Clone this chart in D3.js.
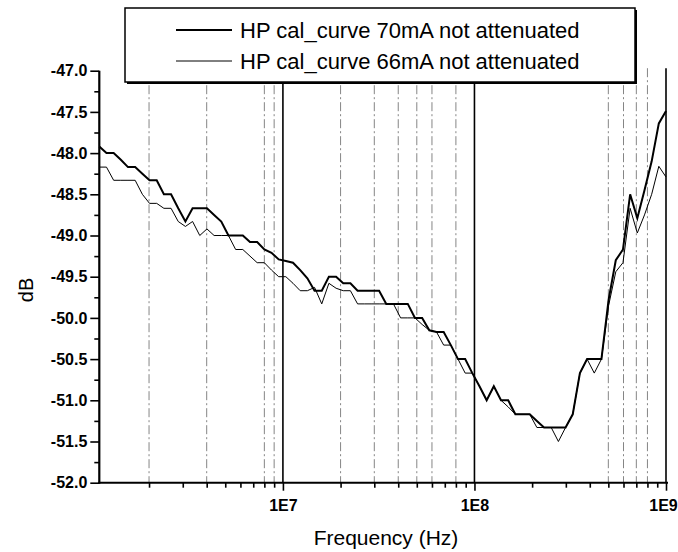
<!DOCTYPE html>
<html>
<head>
<meta charset="utf-8">
<script src="https://cdn.jsdelivr.net/npm/d3@7"></script>
<style>
  body { margin: 0; background: #fff; }
  svg { display: block; font-family: "Liberation Sans", Arial, Helvetica, sans-serif; }
</style>
</head>
<body>
<svg id="chart" width="678" height="552"></svg>
<script>
// Sweep frequencies (MHz), log spaced from 1.1 MHz to 1 GHz
const freqMHz = [
  1.100, 1.199, 1.307, 1.425, 1.553, 1.693, 1.846, 2.012, 2.193, 2.391,
  2.606, 2.841, 3.097, 3.376, 3.680, 4.012, 4.373, 4.767, 5.196, 5.665,
  6.175, 6.731, 7.338, 7.999, 8.719, 9.505, 10.36, 11.29, 12.31, 13.42,
  14.63, 15.95, 17.38, 18.95, 20.65, 22.51, 24.54, 26.75, 29.16, 31.78,
  34.64, 37.77, 41.16, 44.87, 48.91, 53.32, 58.12, 63.35, 69.06, 75.28,
  82.05, 89.44, 97.45, 106.2, 115.8, 126.2, 137.6, 150.0, 163.5, 178.2,
  194.3, 211.8, 230.8, 251.6, 274.3, 299.0, 325.9, 355.3, 387.3, 422.2,
  460.2, 501.7, 546.8, 596.1, 649.8, 708.3, 772.1, 841.7, 917.4, 1000
];

// Calibration curve, 70 mA (dB)
const dB70 = [
  -47.92, -48.00, -48.00, -48.08, -48.17, -48.17, -48.25, -48.33, -48.33, -48.50,
  -48.50, -48.67, -48.83, -48.67, -48.67, -48.67, -48.75, -48.83, -49.00, -49.00,
  -49.00, -49.08, -49.08, -49.17, -49.21, -49.29, -49.31, -49.33, -49.42, -49.52,
  -49.67, -49.67, -49.50, -49.50, -49.58, -49.58, -49.67, -49.67, -49.67, -49.67,
  -49.83, -49.83, -49.83, -49.83, -50.00, -50.00, -50.15, -50.17, -50.17, -50.33,
  -50.50, -50.50, -50.67, -50.83, -51.00, -50.83, -51.00, -51.00, -51.17, -51.17,
  -51.17, -51.25, -51.33, -51.33, -51.33, -51.33, -51.17, -50.67, -50.50, -50.50,
  -50.50, -49.78, -49.30, -49.17, -48.50, -48.79, -48.45, -48.10, -47.64, -47.49
];

// Calibration curve, 66 mA (dB)
const dB66 = [
  -48.17, -48.17, -48.33, -48.33, -48.33, -48.33, -48.50, -48.61, -48.61, -48.67,
  -48.67, -48.83, -48.89, -48.83, -49.00, -48.92, -49.00, -49.00, -49.00, -49.17,
  -49.17, -49.25, -49.33, -49.33, -49.42, -49.50, -49.50, -49.58, -49.67, -49.67,
  -49.63, -49.83, -49.58, -49.64, -49.67, -49.67, -49.83, -49.83, -49.83, -49.83,
  -49.83, -49.83, -50.00, -50.00, -50.00, -50.08, -50.15, -50.17, -50.33, -50.33,
  -50.50, -50.67, -50.67, -50.83, -51.00, -50.83, -51.00, -51.08, -51.17, -51.17,
  -51.17, -51.33, -51.33, -51.33, -51.50, -51.33, -51.17, -50.67, -50.50, -50.67,
  -50.50, -49.85, -49.44, -49.33, -48.67, -48.97, -48.75, -48.50, -48.16, -48.29
];

const seriesNames = [
  "HP cal_curve 70mA not attenuated",
  "HP cal_curve 66mA not attenuated"
];

// Axis ticks
const xMajorTicks = [1e7, 1e8, 1e9];
const xMajorLabels = ["1E7", "1E8", "1E9"];
const xMinorTicks = [
  2e6, 3e6, 4e6, 5e6, 6e6, 7e6, 8e6, 9e6,
  2e7, 3e7, 4e7, 5e7, 6e7, 7e7, 8e7, 9e7,
  2e8, 3e8, 4e8, 5e8, 6e8, 7e8, 8e8, 9e8
];
const xGridMinor = [2e6, 4e6, 8e6, 9e6, 2e7, 3e7, 4e7, 5e7, 6e7, 8e7, 5e8, 6e8, 7e8, 8e8];
const yMajorTicks = [-47.0, -47.5, -48.0, -48.5, -49.0, -49.5, -50.0, -50.5, -51.0, -51.5, -52.0];
const yMinorTicks = [-47.25, -47.75, -48.25, -48.75, -49.25, -49.75, -50.25, -50.75, -51.25, -51.75];

const svg = d3.select("#chart");

const x = d3.scaleLog().domain([1.1e6, 1e9]).range([99.3, 666]);
const y = d3.scaleLinear().domain([-52, -47]).range([482.7, 70.7]);

const plotTop = y(-47) - 2.5;
const plotBottom = y(-52);

// Vertical grid lines
const grid = svg.append("g");
grid.selectAll("line.minor")
  .data(xGridMinor)
  .join("line")
  .attr("class", "minor")
  .attr("x1", d => x(d)).attr("x2", d => x(d))
  .attr("y1", plotTop).attr("y2", plotBottom)
  .attr("stroke", "#777")
  .attr("stroke-width", 0.9)
  .attr("stroke-dasharray", "9,3,2,3");
grid.selectAll("line.major")
  .data(xMajorTicks)
  .join("line")
  .attr("class", "major")
  .attr("x1", d => x(d)).attr("x2", d => x(d))
  .attr("y1", plotTop).attr("y2", plotBottom)
  .attr("stroke", "#000")
  .attr("stroke-width", 1.6);

// Curves
const rows70 = freqMHz.map((f, i) => ({ f: f * 1e6, v: dB70[i] }));
const rows66 = freqMHz.map((f, i) => ({ f: f * 1e6, v: dB66[i] }));
const line = d3.line().x(d => x(d.f)).y(d => y(d.v));

svg.append("path").datum(rows66)
  .attr("d", line).attr("fill", "none")
  .attr("stroke", "#000").attr("stroke-width", 1)
  .attr("stroke-linejoin", "miter");
svg.append("path").datum(rows70)
  .attr("d", line).attr("fill", "none")
  .attr("stroke", "#000").attr("stroke-width", 2)
  .attr("stroke-linejoin", "miter");

// X axis
const xAxisG = svg.append("g").attr("transform", `translate(0,${plotBottom})`);
xAxisG.call(d3.axisBottom(x).tickValues(xMinorTicks).tickSize(5).tickFormat(""));
xAxisG.call(g => g.select(".domain").remove());
const xMajorG = svg.append("g").attr("transform", `translate(0,${plotBottom})`);
xMajorG.call(d3.axisBottom(x).tickValues(xMajorTicks).tickSize(8).tickPadding(9)
  .tickFormat((d, i) => xMajorLabels[i]));
xMajorG.select(".domain").remove();
svg.append("line")
  .attr("x1", x(1.1e6) - 1).attr("x2", x(1e9) + 2)
  .attr("y1", plotBottom).attr("y2", plotBottom)
  .attr("stroke", "#000").attr("stroke-width", 2);

// Y axis
const yMinorG = svg.append("g").attr("transform", `translate(${x(1.1e6)},0)`);
yMinorG.call(d3.axisLeft(y).tickValues(yMinorTicks).tickSize(5).tickFormat(""));
yMinorG.select(".domain").remove();
const yAxisG = svg.append("g").attr("transform", `translate(${x(1.1e6)},0)`);
yAxisG.call(d3.axisLeft(y).tickValues(yMajorTicks).tickSize(9).tickPadding(3)
  .tickFormat(d => d.toFixed(1)));
yAxisG.select(".domain").remove();
svg.append("line")
  .attr("x1", x(1.1e6)).attr("x2", x(1.1e6))
  .attr("y1", y(-47)).attr("y2", plotBottom + 1)
  .attr("stroke", "#000").attr("stroke-width", 2.2);

svg.selectAll(".tick line").attr("stroke", "#000").attr("stroke-width", 1.6);
svg.selectAll(".tick text")
  .attr("fill", "#000")
  .attr("font-size", 16)
  .attr("font-weight", "bold")
  .attr("font-family", "'Liberation Sans', Arial, sans-serif");

// Last decade label sits at the right edge; keep it inside the frame
xMajorG.selectAll(".tick text")
  .filter(d => d === 1e9)
  .attr("dx", -3);

// Axis titles
svg.append("text")
  .attr("x", 386).attr("y", 545)
  .attr("text-anchor", "middle")
  .attr("font-size", 21)
  .text("Frequency (Hz)");
svg.append("text")
  .attr("transform", "translate(33,290) rotate(-90)")
  .attr("text-anchor", "middle")
  .attr("font-size", 20)
  .text("dB");

// Legend
const legend = svg.append("g");
legend.append("rect")
  .attr("x", 127).attr("y", 10).attr("width", 510).attr("height", 74)
  .attr("fill", "#000");
legend.append("rect")
  .attr("x", 125).attr("y", 8).attr("width", 510).attr("height", 74)
  .attr("fill", "#fff").attr("stroke", "#000").attr("stroke-width", 1.5);
const legendRows = [
  { name: seriesNames[0], width: 2, yPos: 30 },
  { name: seriesNames[1], width: 1, yPos: 61 }
];
legendRows.forEach(r => {
  legend.append("line")
    .attr("x1", 176).attr("x2", 232)
    .attr("y1", r.yPos).attr("y2", r.yPos)
    .attr("stroke", "#000").attr("stroke-width", r.width);
  legend.append("text")
    .attr("x", 240).attr("y", r.yPos + 7.5)
    .attr("font-size", 22)
    .text(r.name);
});
</script>
</body>
</html>
